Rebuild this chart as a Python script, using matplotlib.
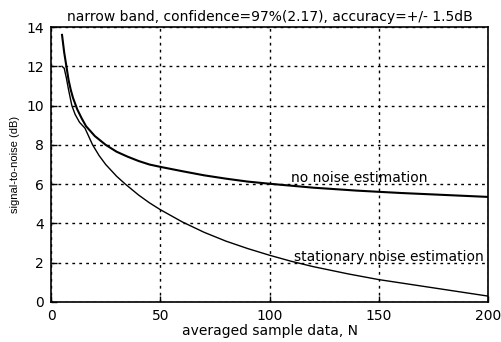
import matplotlib

matplotlib.use("Agg")
import matplotlib.pyplot as plt

# averaged sample count and the two SNR curves
n_no_noise = [5, 6, 7, 8, 9, 10, 12, 14, 16, 20, 25, 30, 35, 40, 45, 50, 60, 70, 80,
              90, 100, 120, 140, 160, 180, 200]
snr_no_noise = [13.6, 12.7, 12.0, 11.3, 10.8, 10.4, 9.8, 9.35, 8.95, 8.45, 8.0, 7.65, 7.4, 7.18,
                7.0, 6.88, 6.66, 6.45, 6.28, 6.13, 6.02, 5.82, 5.67, 5.55, 5.45, 5.35]

n_stationary = [5, 6, 7, 8, 9.5, 11, 13, 15.5, 19, 22, 25, 30, 34, 40, 45, 50, 60, 70, 80,
                90, 100, 110, 120, 136, 150, 175, 200]
snr_stationary = [12.0, 11.9, 11.4, 10.8, 10.0, 9.55, 9.15, 8.85, 8.0, 7.45, 7.0, 6.4, 6.0, 5.45,
                  5.05, 4.7, 4.08, 3.55, 3.1, 2.72, 2.38, 2.07, 1.8, 1.43, 1.14, 0.72, 0.3]

x_ticks = [0, 50, 100, 150, 200]
y_ticks = [0, 2, 4, 6, 8, 10, 12, 14]

fig = plt.figure(figsize=(5.01, 3.42), dpi=100)
ax = fig.add_axes([0.102, 0.117, 0.872, 0.804])

ax.plot(n_no_noise, snr_no_noise, color="black", lw=1.5)
ax.plot(n_stationary, snr_stationary, color="black", lw=1.0)

ax.text(110, 6.3, "no noise estimation", fontsize=10, va="center")
ax.text(111, 2.3, "stationary noise estimation", fontsize=10, va="center")

ax.set_xlim(0, 200)
ax.set_ylim(0, 14)
ax.set_xticks(x_ticks)
ax.set_yticks(y_ticks)
ax.grid(True, color="black", linestyle=(0, (2, 3)), linewidth=1.0)
ax.tick_params(direction="in", labelsize=10, width=1.0, length=4, pad=5)
for s in ax.spines.values():
    s.set_linewidth(1.2)

ax.set_title("narrow band, confidence=97%(2.17), accuracy=+/- 1.5dB", fontsize=10, pad=4)
ax.set_xlabel("averaged sample data, N", fontsize=10, labelpad=1)
ax.set_ylabel("signal-to-noise (dB)", fontsize=8, family="Liberation Sans", labelpad=5)

fig.savefig("out.png", dpi=100)
